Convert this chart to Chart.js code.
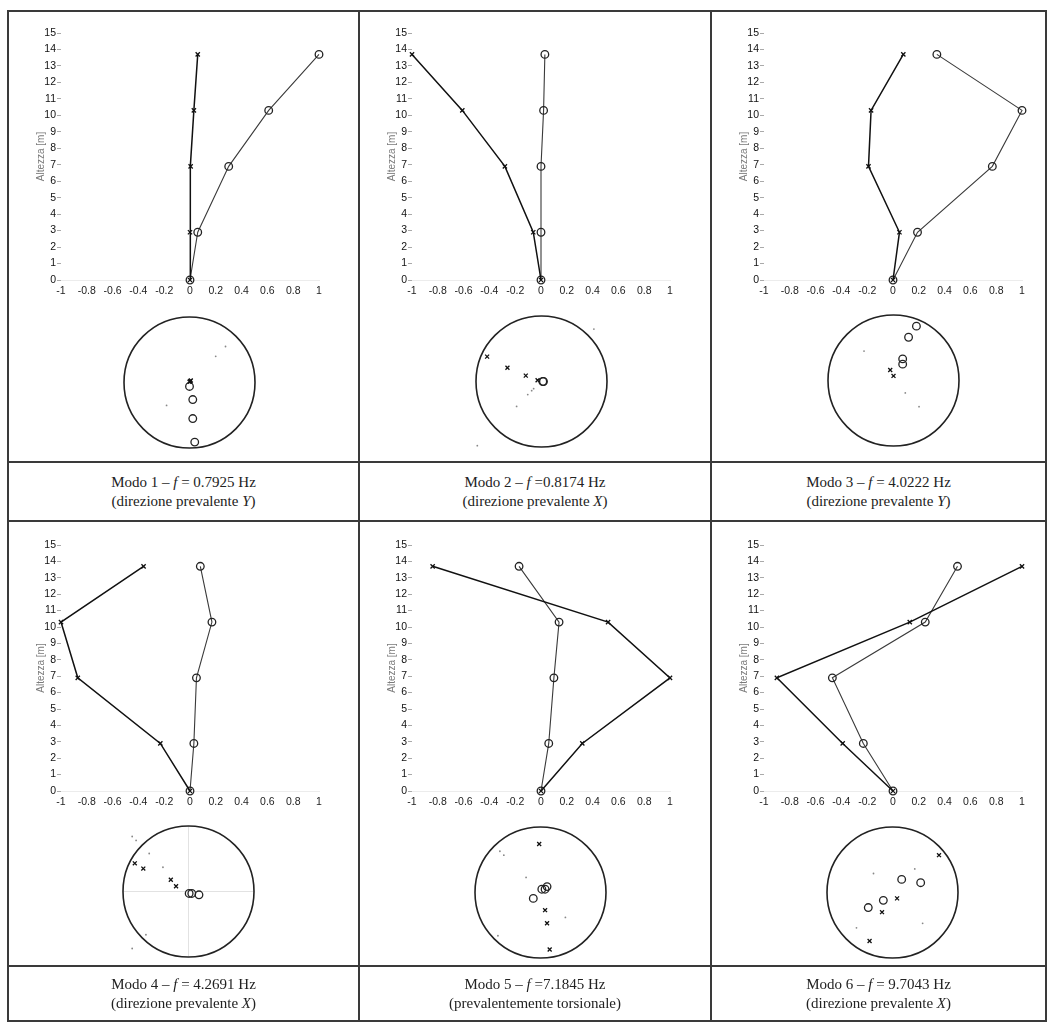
<!DOCTYPE html>
<html><head><meta charset="utf-8">
<script src="https://cdn.jsdelivr.net/npm/chart.js@4.4.0/dist/chart.umd.min.js"></script>
<style>
body{margin:0;background:#fff;}
#fig{position:relative;width:1051px;height:1028px;overflow:hidden;background:#fff;}
.ln{position:absolute;background:#3a3a3a;}
canvas{position:absolute;}
.cap{position:absolute;display:flex;flex-direction:column;align-items:center;justify-content:center;font-family:'Liberation Serif','Times New Roman',serif;font-size:15px;line-height:19px;color:#222;}
</style></head><body><div id="fig"></div>
<script>
// ---------------- DATA ----------------
const altezze = [0, 2.9, 6.9, 10.3, 13.7];
const ticksAltezza = [0,1,2,3,4,5,6,7,8,9,10,11,12,13,14,15];
const ticksSpost = [-1,-0.8,-0.6,-0.4,-0.2,0,0.2,0.4,0.6,0.8,1];
const etichetteSpost = ['-1','-0.8','-0.6','-0.4','-0.2','0','0.2','0.4','0.6','0.8','1'];

// profili modali: componente X (croci) e Y (cerchi) ai vari livelli
const modo1_X = [0, 0.00, 0.005, 0.03, 0.06];
const modo1_Y = [0, 0.06, 0.30, 0.61, 1.00];
const modo2_X = [0, -0.06, -0.28, -0.61, -1.00];
const modo2_Y = [0, 0.00, 0.00, 0.02, 0.03];
const modo3_X = [0, 0.05, -0.19, -0.17, 0.08];
const modo3_Y = [0, 0.19, 0.77, 1.00, 0.34];
const modo4_X = [0, -0.23, -0.87, -1.00, -0.36];
const modo4_Y = [0, 0.03, 0.05, 0.17, 0.08];
const modo5_X = [0, 0.32, 1.00, 0.52, -0.84];
const modo5_Y = [0, 0.06, 0.10, 0.14, -0.17];
const modo6_X = [0, -0.39, -0.90, 0.13, 1.00];
const modo6_Y = [0, -0.23, -0.47, 0.25, 0.50];

// piante (vista in pianta dei punti)
const pianta1_croci_x = [0.01, 0.02, 0.00];
const pianta1_croci_y = [0.02, 0.03, 0.01];
const pianta1_cerchi_x = [0.00, 0.05, 0.05, 0.08];
const pianta1_cerchi_y = [-0.06, -0.26, -0.55, -0.91];
const pianta1_tracce_x = [0.55, 0.40, -0.35];
const pianta1_tracce_y = [0.55, 0.40, -0.35];

const pianta2_croci_x = [-0.83, -0.52, -0.24, -0.06];
const pianta2_croci_y = [0.38, 0.21, 0.09, 0.02];
const pianta2_cerchi_x = [0.02, 0.03];
const pianta2_cerchi_y = [0.00, 0.00];
const pianta2_tracce_x = [-0.12, -0.15, -0.21, -0.38, 0.80, -0.98];
const pianta2_tracce_y = [-0.11, -0.14, -0.20, -0.38, 0.80, -0.98];

const pianta3_croci_x = [0.00, -0.05];
const pianta3_croci_y = [0.07, 0.16];
const pianta3_cerchi_x = [0.23, 0.35, 0.14, 0.14];
const pianta3_cerchi_y = [0.66, 0.83, 0.25, 0.33];
const pianta3_tracce_x = [-0.45, 0.18, 0.39];
const pianta3_tracce_y = [0.45, -0.19, -0.40];

const pianta4_croci_x = [-0.82, -0.69, -0.27, -0.19];
const pianta4_croci_y = [0.43, 0.35, 0.18, 0.08];
const pianta4_cerchi_x = [0.01, 0.05, 0.16];
const pianta4_cerchi_y = [-0.03, -0.03, -0.05];
const pianta4_tracce_x = [-0.86, -0.80, -0.60, -0.39, -0.65, -0.86];
const pianta4_tracce_y = [0.84, 0.78, 0.58, 0.37, -0.66, -0.87];

const pianta5_croci_x = [-0.02, 0.07, 0.10, 0.14];
const pianta5_croci_y = [0.74, -0.27, -0.47, -0.87];
const pianta5_cerchi_x = [0.10, 0.07, 0.02, -0.11];
const pianta5_cerchi_y = [0.09, 0.05, 0.05, -0.09];
const pianta5_tracce_x = [-0.62, -0.56, -0.22, 0.38, -0.65];
const pianta5_tracce_y = [0.63, 0.57, 0.23, -0.38, -0.66];

const pianta6_croci_x = [0.71, 0.07, -0.16, -0.35];
const pianta6_croci_y = [0.57, -0.09, -0.30, -0.74];
const pianta6_cerchi_x = [0.43, -0.37, 0.14, -0.14];
const pianta6_cerchi_y = [0.15, -0.23, 0.20, -0.12];
const pianta6_tracce_x = [-0.29, 0.34, -0.55, 0.46];
const pianta6_tracce_y = [0.29, 0.36, -0.54, -0.47];

const nomiModi = ['Modo 1', 'Modo 2', 'Modo 3', 'Modo 4', 'Modo 5', 'Modo 6'];
const frequenze = ['= 0.7925', '=0.8174', '= 4.0222', '= 4.2691', '=7.1845', '= 9.7043'];
const direzioni = ['(direzione prevalente <i>Y</i>)', '(direzione prevalente <i>X</i>)', '(direzione prevalente <i>Y</i>)',
                   '(direzione prevalente <i>X</i>)', '(prevalentemente torsionale)', '(direzione prevalente <i>X</i>)'];

// ---------------- LAYOUT ----------------
const modi = [
  {X: modo1_X, Y: modo1_Y}, {X: modo2_X, Y: modo2_Y}, {X: modo3_X, Y: modo3_Y},
  {X: modo4_X, Y: modo4_Y}, {X: modo5_X, Y: modo5_Y}, {X: modo6_X, Y: modo6_Y}
];
const piante = [
  [pianta1_croci_x, pianta1_croci_y, pianta1_cerchi_x, pianta1_cerchi_y, pianta1_tracce_x, pianta1_tracce_y],
  [pianta2_croci_x, pianta2_croci_y, pianta2_cerchi_x, pianta2_cerchi_y, pianta2_tracce_x, pianta2_tracce_y],
  [pianta3_croci_x, pianta3_croci_y, pianta3_cerchi_x, pianta3_cerchi_y, pianta3_tracce_x, pianta3_tracce_y],
  [pianta4_croci_x, pianta4_croci_y, pianta4_cerchi_x, pianta4_cerchi_y, pianta4_tracce_x, pianta4_tracce_y],
  [pianta5_croci_x, pianta5_croci_y, pianta5_cerchi_x, pianta5_cerchi_y, pianta5_tracce_x, pianta5_tracce_y],
  [pianta6_croci_x, pianta6_croci_y, pianta6_cerchi_x, pianta6_cerchi_y, pianta6_tracce_x, pianta6_tracce_y]
];

const colL = [61, 412, 764];
const rowT = [33, 545];
const rowB = [280, 791];
const centriPianta = [[189,382],[541,381],[893,380.5],[188.5,891],[540.5,892],[892.5,892]];
const raggioPianta = 65.5;

const fig = document.getElementById('fig');
function linea(x,y,w,h){
  const d=document.createElement('div');d.className='ln';
  d.style.left=x+'px';d.style.top=y+'px';d.style.width=w+'px';d.style.height=h+'px';
  fig.appendChild(d);
}
// table borders
linea(7,10,1040,2);
linea(7,1020,1040,2);
linea(7,10,2,1012);
linea(1045,10,2,1012);
linea(358,10,2,1012);
linea(710,10,2,1012);
linea(7,461,1040,2);
linea(7,520,1040,2);
linea(7,965,1040,2);

const sans = "'Liberation Sans', Arial, sans-serif";

function makeCanvas(left, top, w, h){
  const c=document.createElement('canvas');
  c.width=w;c.height=h;
  c.style.left=left+'px';c.style.top=top+'px';c.style.width=w+'px';c.style.height=h+'px';
  fig.appendChild(c);
  return c;
}

function graficoProfilo(i){
  const col=i%3,row=Math.floor(i/3);
  const L=colL[col], T=rowT[row], B=rowB[row];
  const pL=60,pT=25,pR=25,pB=25;
  const W=258+pL+pR, H=(B-T)+pT+pB;
  const c=makeCanvas(L-pL, T-pT, W, H);
  const m=modi[i];
  new Chart(c,{
    type:'line',
    data:{datasets:[
      {label:'X', data: altezze.map((h,k)=>({x:m.X[k], y:h})),
       borderColor:'#111', borderWidth:1.5, pointStyle:'crossRot', pointRadius:3,
       pointBorderColor:'#111', pointBorderWidth:1.3, pointBackgroundColor:'#111', tension:0, clip:false, fill:false},
      {label:'Y', data: altezze.map((h,k)=>({x:m.Y[k], y:h})),
       borderColor:'#3a3a3a', borderWidth:1.1, pointStyle:'circle', pointRadius:3.8,
       pointBorderColor:'#222', pointBorderWidth:1.3, pointBackgroundColor:'rgba(255,255,255,0)', tension:0, clip:false, fill:false}
    ]},
    options:{
      responsive:false, animation:false, events:[],
      layout:{padding:{left:0, top:pT, right:pR, bottom:0}},
      plugins:{legend:{display:false}, tooltip:{enabled:false}},
      scales:{
        x:{type:'linear', min:-1, max:1,
           afterBuildTicks:s=>{s.ticks=ticksSpost.map(v=>({value:v}));},
           afterFit:s=>{s.height=pB;},
           ticks:{autoSkip:false, maxRotation:0, padding:5, color:'#222', font:{family:sans,size:10.5},
                  callback:(v)=>{const k=ticksSpost.findIndex(t=>Math.abs(t-v)<1e-6);return k>=0?etichetteSpost[k]:'';}},
           grid:{display:false, drawTicks:false},
           border:{display:true, color:'#ececec', width:1}},
        y:{type:'linear', min:0, max:15,
           afterBuildTicks:s=>{s.ticks=ticksAltezza.map(v=>({value:v}));},
           afterFit:s=>{s.width=pL;},
           ticks:{autoSkip:false, padding:1, color:'#111', font:{family:sans,size:10.5}},
           grid:{display:true, drawOnChartArea:false, drawTicks:true, tickLength:4, color:'#aaa'},
           border:{display:false},
           title:{display:true, text:'Altezza [m]', color:'#7a7a7a', font:{family:sans,size:10}, padding:{top:34,bottom:0}}}
      }
    }
  });
}

const pluginCerchio = {
  id:'cerchioPianta',
  beforeDatasetsDraw(chart, args, opts){
    const {ctx, scales:{x,y}} = chart;
    const cx=x.getPixelForValue(0), cy=y.getPixelForValue(0);
    const r=x.getPixelForValue(1)-cx;
    ctx.save();
    if(opts.croce){
      ctx.strokeStyle='#e2e2e2';ctx.lineWidth=1;
      ctx.beginPath();ctx.moveTo(cx-r,cy);ctx.lineTo(cx+r,cy);ctx.moveTo(cx,cy-r);ctx.lineTo(cx,cy+r);ctx.stroke();
    }
    ctx.strokeStyle='#222';ctx.lineWidth=1.6;
    ctx.beginPath();ctx.arc(cx,cy,r,0,Math.PI*2);ctx.stroke();
    ctx.restore();
  }
};

function graficoPianta(i){
  const [cx,cy]=centriPianta[i];
  const p=14, S=2*raggioPianta+2*p;
  const c=makeCanvas(cx-S/2, cy-S/2, S, S);
  const d=piante[i];
  const pts=(xs,ys)=>xs.map((v,k)=>({x:v,y:ys[k]}));
  new Chart(c,{
    type:'scatter',
    data:{datasets:[
      {data:pts(d[4],d[5]), pointStyle:'circle', pointRadius:0.9, pointBackgroundColor:'#888', pointBorderWidth:0, clip:false},
      {data:pts(d[0],d[1]), pointStyle:'crossRot', pointRadius:2.8, pointBorderColor:'#111', pointBorderWidth:1.3, clip:false},
      {data:pts(d[2],d[3]), pointStyle:'circle', pointRadius:3.8, pointBorderColor:'#222', pointBackgroundColor:'rgba(255,255,255,0)', pointBorderWidth:1.3, clip:false}
    ]},
    options:{
      responsive:false, animation:false, events:[],
      layout:{padding:p},
      plugins:{legend:{display:false}, tooltip:{enabled:false}, cerchioPianta:{croce:i===3}},
      scales:{x:{display:false,min:-1,max:1}, y:{display:false,min:-1,max:1}}
    },
    plugins:[pluginCerchio]
  });
}

function didascalia(i){
  const col=i%3,row=Math.floor(i/3);
  const xs=[9,360,712], xe=[358,710,1045];
  const ys=[463,967], ye=[520,1020];
  const d=document.createElement('div');d.className='cap';
  d.style.left=xs[col]+'px';d.style.top=ys[row]+'px';
  d.style.width=(xe[col]-xs[col])+'px';d.style.height=(ye[row]-ys[row])+'px';
  d.innerHTML='<div>'+nomiModi[i]+' – <i>f</i> '+frequenze[i]+' Hz</div><div>'+direzioni[i]+'</div>';
  fig.appendChild(d);
}

for(let i=0;i<6;i++){graficoProfilo(i);graficoPianta(i);didascalia(i);}
</script>
</body></html>
